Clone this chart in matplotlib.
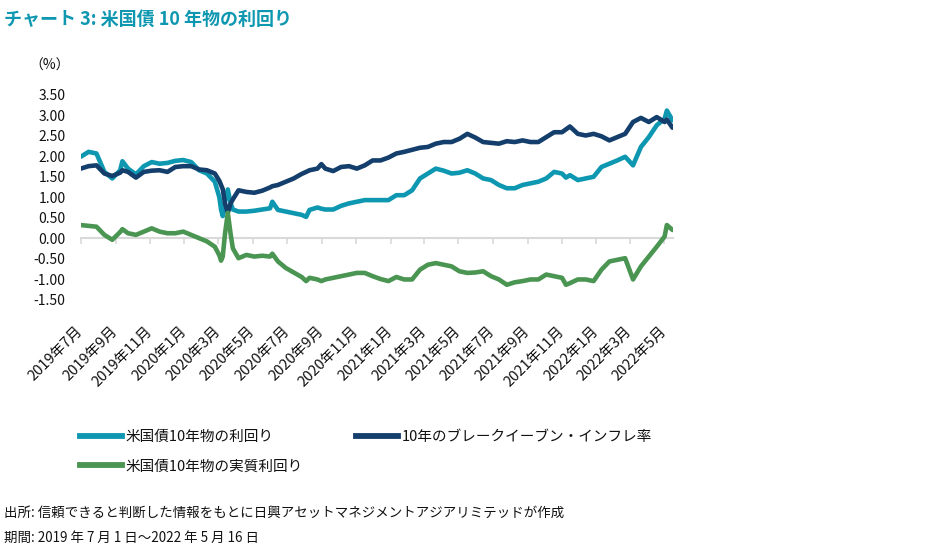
import matplotlib
matplotlib.use("Agg")
import matplotlib.pyplot as plt
import matplotlib.dates as mdates
from matplotlib.lines import Line2D
import pandas as pd

plt.rcParams['font.family'] = ['Noto Sans CJK JP', 'DejaVu Sans']

# ---------------- data ----------------
dates = [
    "2019-07-01", "2019-07-15", "2019-07-29", "2019-08-12", "2019-08-26", "2019-09-09", "2019-09-13",
    "2019-09-23", "2019-10-07", "2019-10-21", "2019-11-04", "2019-11-18", "2019-12-02", "2019-12-16",
    "2019-12-30",
    "2020-01-13", "2020-01-27", "2020-02-10", "2020-02-24", "2020-03-03", "2020-03-06", "2020-03-09",
    "2020-03-13", "2020-03-18", "2020-03-23", "2020-03-27", "2020-04-06", "2020-04-20", "2020-05-04",
    "2020-05-18", "2020-06-01", "2020-06-05", "2020-06-15", "2020-06-29", "2020-07-13", "2020-07-27",
    "2020-08-04", "2020-08-10", "2020-08-24", "2020-08-31", "2020-09-07", "2020-09-21", "2020-10-05",
    "2020-10-19", "2020-11-02", "2020-11-16", "2020-11-30", "2020-12-14", "2020-12-28",
    "2021-01-11", "2021-01-25", "2021-02-08", "2021-02-22", "2021-03-08", "2021-03-22", "2021-04-05",
    "2021-04-19", "2021-05-03", "2021-05-17", "2021-05-31", "2021-06-14", "2021-06-28", "2021-07-12",
    "2021-07-26", "2021-08-09", "2021-08-23", "2021-09-06", "2021-09-20", "2021-10-04", "2021-10-18",
    "2021-11-01", "2021-11-08", "2021-11-15", "2021-11-29", "2021-12-13", "2021-12-27",
    "2022-01-10", "2022-01-24", "2022-02-07", "2022-02-21", "2022-03-07", "2022-03-21", "2022-04-04",
    "2022-04-18", "2022-05-02", "2022-05-06", "2022-05-16",
]

nominal_yield = [
    1.99, 2.11, 2.07, 1.62, 1.46, 1.66, 1.88, 1.70, 1.56, 1.76, 1.86, 1.82, 1.84, 1.89, 1.91,
    1.86, 1.66, 1.58, 1.38, 1.00, 0.70, 0.54, 0.90, 1.19, 0.85, 0.70, 0.65, 0.65, 0.67, 0.70,
    0.73, 0.89, 0.69, 0.65, 0.61, 0.57, 0.52, 0.69, 0.75, 0.72, 0.70, 0.70, 0.79, 0.85, 0.89,
    0.93, 0.93, 0.93, 0.93,
    1.05, 1.05, 1.17, 1.46, 1.58, 1.70, 1.65, 1.58, 1.60, 1.66, 1.58, 1.46, 1.42, 1.30, 1.22,
    1.22, 1.30, 1.34, 1.38, 1.46, 1.62, 1.58, 1.48, 1.54, 1.42, 1.46, 1.50,
    1.74, 1.82, 1.90, 1.99, 1.78, 2.23, 2.47, 2.76, 2.92, 3.12, 2.88,
]

breakeven = [
    1.70, 1.76, 1.78, 1.58, 1.52, 1.60, 1.66, 1.62, 1.48, 1.62, 1.65, 1.66, 1.62, 1.74, 1.76,
    1.76, 1.68, 1.66, 1.58, 1.40, 1.30, 1.20, 0.85, 0.62, 0.85, 0.95, 1.17, 1.13, 1.11, 1.16,
    1.24, 1.27, 1.30, 1.38, 1.46, 1.57, 1.62, 1.66, 1.70, 1.81, 1.70, 1.64, 1.74, 1.76, 1.70,
    1.78, 1.90, 1.90, 1.97,
    2.07, 2.11, 2.16, 2.21, 2.23, 2.31, 2.35, 2.35, 2.43, 2.55, 2.46, 2.35, 2.33, 2.31, 2.37,
    2.35, 2.39, 2.35, 2.35, 2.47, 2.59, 2.59, 2.66, 2.73, 2.55, 2.51, 2.55,
    2.49, 2.39, 2.47, 2.55, 2.84, 2.94, 2.84, 2.96, 2.84, 2.90, 2.70,
]

real_yield = [
    0.32, 0.30, 0.28, 0.08, -0.04, 0.15, 0.22, 0.12, 0.08, 0.16, 0.24, 0.16, 0.12, 0.12, 0.16,
    0.08, 0.00, -0.08, -0.21, -0.42, -0.55, -0.45, 0.10, 0.62, 0.10, -0.25, -0.49, -0.41, -0.45,
    -0.43, -0.45, -0.38, -0.57, -0.73, -0.84, -0.95, -1.05, -0.97, -1.01, -1.05, -1.01, -0.97,
    -0.93, -0.89, -0.85, -0.85, -0.93, -1.00, -1.05,
    -0.95, -1.01, -1.01, -0.77, -0.65, -0.61, -0.65, -0.69, -0.81, -0.85, -0.84, -0.81, -0.93,
    -1.01, -1.14, -1.08, -1.05, -1.01, -1.01, -0.89, -0.93, -0.97, -1.14, -1.10, -1.01, -1.01, -1.05,
    -0.77, -0.57, -0.53, -0.49, -1.01, -0.69, -0.45, -0.21, 0.04, 0.32, 0.20,
]

series_names = ["米国債10年物の利回り", "10年のブレークイーブン・インフレ率", "米国債10年物の実質利回り"]
y_ticks = [-1.5, -1.0, -0.5, 0.0, 0.5, 1.0, 1.5, 2.0, 2.5, 3.0, 3.5]
x_tick_dates = pd.date_range("2019-07-01", "2022-05-01", freq="2MS")
x_tick_labels = [f"{d.year}年{d.month}月" for d in x_tick_dates]

title = "チャート 3: 米国債 10 年物の利回り"
footer1 = "出所: 信頼できると判断した情報をもとに日興アセットマネジメントアジアリミテッドが作成"
footer2 = "期間: 2019 年 7 月 1 日～2022 年 5 月 16 日"

# ---------------- style ----------------
TEAL = "#0E97B0"
NAVY = "#143F6C"
GREEN = "#4A9552"
ZERO = "#D9D9D9"
TXT = "#111111"

W, H = 928, 549
fig = plt.figure(figsize=(W / 100, H / 100), dpi=100)

x0_px, x1_px = 80.7, 672.5
ytop_px, ybot_px = 95.0, 299.5
ax = fig.add_axes([x0_px / W, 1 - ybot_px / H, (x1_px - x0_px) / W, (ybot_px - ytop_px) / H])

x = pd.to_datetime(dates)
lw = 3.3
h1, = ax.plot(x, nominal_yield, color=TEAL, lw=lw, solid_capstyle="round", solid_joinstyle="round", zorder=3)
h2, = ax.plot(x, breakeven, color=NAVY, lw=lw, solid_capstyle="round", solid_joinstyle="round", zorder=4)
h3, = ax.plot(x, real_yield, color=GREEN, lw=lw, solid_capstyle="round", solid_joinstyle="round", zorder=5)

ax.set_xlim(pd.Timestamp("2019-07-01"), pd.Timestamp("2022-05-16"))
ax.set_ylim(-1.5, 3.5)

for s in ax.spines.values():
    s.set_visible(False)

ax.set_yticks(y_ticks)
ax.set_yticklabels([f"{v:.2f}" for v in y_ticks])
ax.tick_params(axis="y", length=0, pad=11, labelsize=10, labelcolor=TXT)

ax.set_xticks(mdates.date2num(x_tick_dates))
ax.set_xticklabels(x_tick_labels, rotation=45, ha="right", va="center", rotation_mode="anchor")
ax.tick_params(axis="x", length=0, pad=21, labelsize=10.5, labelcolor=TXT)

# zero axis line with tick marks
zero_frac = (0 - (-1.5)) / (3.5 - (-1.5))
sec = ax.secondary_xaxis(zero_frac)
sec.set_xticks(mdates.date2num(x_tick_dates))
sec.tick_params(axis="x", length=4, width=1.2, color=ZERO, labelbottom=False, direction="out")
sec.spines["bottom"].set_color(ZERO)
sec.spines["bottom"].set_linewidth(1.5)

# unit label
fig.text(70 / W, 1 - 66 / H, "（%）", ha="right", va="center", fontsize=10, color=TXT)

# title
fig.text(4 / W, 1 - 19 / H, title, ha="left", va="center", fontsize=13, fontweight="bold", color=TEAL)

# legend
handles = [Line2D([], [], color=TEAL, lw=4.2), Line2D([], [], color=GREEN, lw=4.2), Line2D([], [], color=NAVY, lw=4.2)]
labels = [series_names[0], series_names[2], series_names[1]]
fig.legend(handles, labels, ncol=2, loc="upper left", bbox_to_anchor=(80 / W, 1 - 430 / H),
           frameon=False, fontsize=10.5, handlelength=2.9, handletextpad=0.25, columnspacing=3.6,
           labelspacing=1.05, borderpad=0, borderaxespad=0, labelcolor=TXT)

# footer
fig.text(4 / W, 1 - 513 / H, footer1, ha="left", va="center", fontsize=9.7, color=TXT)
fig.text(4 / W, 1 - 538 / H, footer2, ha="left", va="center", fontsize=9.7, color=TXT)

fig.savefig("out.png", dpi=100)
